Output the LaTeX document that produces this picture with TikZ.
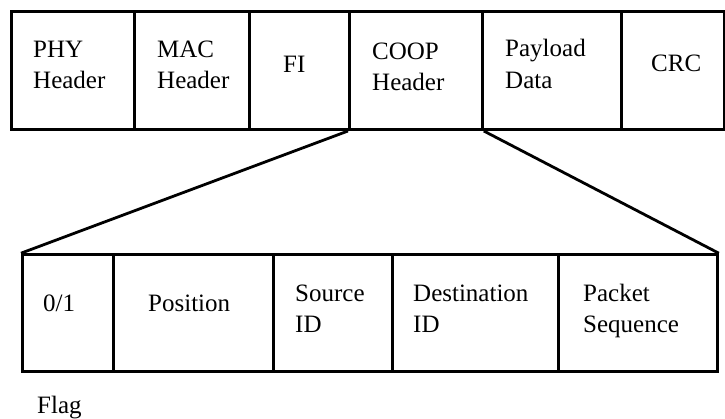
\documentclass[tikz,border=0pt]{standalone}
\usepackage{fontspec}
\setmainfont{Liberation Serif}
\begin{document}
\begin{tikzpicture}[x=1pt,y=1pt,
  cell/.style={draw, line width=2.8pt, rectangle, inner sep=0pt, anchor=south west},
  lbl/.style={anchor=base west, inner sep=0pt, font=\fontsize{25}{31}\selectfont},
  link/.style={line width=2.8pt}]
\useasboundingbox (0,0) rectangle (725,418);
% top row
\node[cell, minimum width=123pt, minimum height=118pt] (phy) at (10,287) {};
\node[cell, minimum width=115pt, minimum height=118pt] (mac) at (133,287) {};
\node[cell, minimum width=100pt, minimum height=118pt] (fi) at (248,287) {};
\node[cell, minimum width=133pt, minimum height=118pt] (coop) at (348,287) {};
\node[cell, minimum width=139pt, minimum height=118pt] (pay) at (481,287) {};
\node[cell, minimum width=103pt, minimum height=118pt] (crc) at (620,287) {};
% bottom row
\node[cell, minimum width=91pt, minimum height=117pt] (flg) at (21,45) {};
\node[cell, minimum width=160pt, minimum height=117pt] (pos) at (112,45) {};
\node[cell, minimum width=119pt, minimum height=117pt] (src) at (272,45) {};
\node[cell, minimum width=166pt, minimum height=117pt] (dst) at (391,45) {};
\node[cell, minimum width=159pt, minimum height=117pt] (seq) at (557,45) {};
% connectors
\draw[link] (coop.south west) -- (flg.north west);
\draw[link] (coop.south east) -- (seq.north east);
% labels top
\node[lbl] (t1) at (33,360) {PHY};
\node[lbl] (t2) at (33,329) {Header};
\node[lbl] (t3) at (157,360) {MAC};
\node[lbl] (t4) at (157,329) {Header};
\node[lbl] (t5) at (283,345) {FI};
\node[lbl] (t6) at (372,358) {COOP};
\node[lbl] (t7) at (372,327) {Header};
\node[lbl] (t8) at (505,361) {Payload};
\node[lbl] (t9) at (505,329) {Data};
\node[lbl] (t10) at (651,346) {CRC};
% labels bottom
\node[lbl] (b1) at (43,107) {0/1};
\node[lbl] (b2) at (148,107) {Position};
\node[lbl] (b3) at (295,117) {Source};
\node[lbl] (b4) at (295,86) {ID};
\node[lbl] (b5) at (413,117) {Destination};
\node[lbl] (b6) at (413,86) {ID};
\node[lbl] (b7) at (583,117) {Packet};
\node[lbl] (b8) at (583,86) {Sequence};
\node[lbl] (b9) at (37,5) {Flag};
\end{tikzpicture}
\end{document}
